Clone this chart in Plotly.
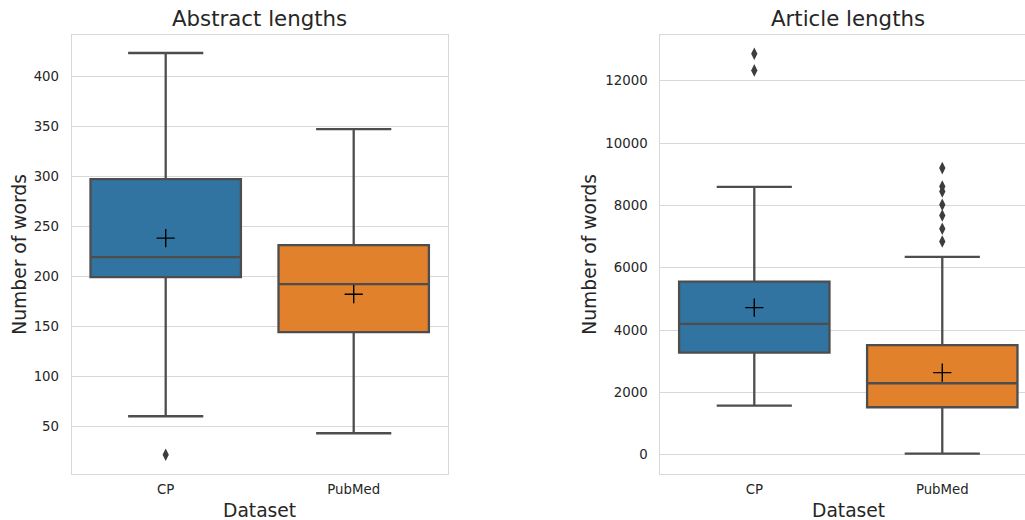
import plotly.graph_objects as go

W, H = 1025, 520

categories = ["CP", "PubMed"]
colors = ["#3274a1", "#e1812c"]

# Abstract lengths (words)
abs_q1 = [199, 144]
abs_median = [219, 192]
abs_q3 = [297, 231]
abs_lower = [60, 43]
abs_upper = [423, 347]
abs_mean = [238, 182]
abs_outliers = {"CP": [21.5], "PubMed": []}
abs_ticks = [50, 100, 150, 200, 250, 300, 350, 400]

# Article lengths (words)
art_q1 = [3275, 1522]
art_median = [4195, 2293]
art_q3 = [5556, 3513]
art_lower = [1573, 32]
art_upper = [8596, 6349]
art_mean = [4720, 2634]
art_outliers = {"CP": [12331, 12867],
                "PubMed": [6840, 7248, 7675, 8018, 8445, 8606, 9197]}
art_ticks = [0, 2000, 4000, 6000, 8000, 10000, 12000]

LINE = "#4d4d4d"
GRID = "#d8d8d8"
TXT = "#262626"
FONT = "DejaVu Sans"

fig = go.Figure()


def add_panel(q1, med, q3, lo, hi, mean, outl, xa, ya):
    for i, c in enumerate(categories):
        fig.add_trace(go.Box(
            x=[c], q1=[q1[i]], median=[med[i]], q3=[q3[i]],
            lowerfence=[lo[i]], upperfence=[hi[i]],
            fillcolor=colors[i], line=dict(color=LINE, width=2.3),
            width=0.8, whiskerwidth=0.5, boxpoints=False,
            xaxis=xa, yaxis=ya, showlegend=False, hoverinfo="skip"))
        if outl[c]:
            fig.add_trace(go.Scatter(
                x=[c] * len(outl[c]), y=outl[c], mode="markers",
                marker=dict(symbol="diamond-tall", size=9, color="#3d3d3d"),
                xaxis=xa, yaxis=ya, showlegend=False, hoverinfo="skip"))
    fig.add_trace(go.Scatter(
        x=categories, y=mean, mode="markers",
        marker=dict(symbol="cross-thin", size=13,
                    line=dict(color="black", width=1.4)),
        xaxis=xa, yaxis=ya, showlegend=False, hoverinfo="skip"))


add_panel(abs_q1, abs_median, abs_q3, abs_lower, abs_upper, abs_mean,
          abs_outliers, "x", "y")
add_panel(art_q1, art_median, art_q3, art_lower, art_upper, art_mean,
          art_outliers, "x2", "y2")

ydom = [1 - 474.3 / H, 1 - 34.7 / H]

common_x = dict(type="category", categoryorder="array", categoryarray=categories,
                showgrid=False, zeroline=False, showline=True, linecolor=GRID,
                linewidth=1, ticks="", ticklabelstandoff=3,
                tickfont=dict(family=FONT, size=13.3, color=TXT))
common_y = dict(showgrid=True, gridcolor=GRID, gridwidth=1, zeroline=False,
                showline=True, linecolor=GRID, linewidth=1, ticks="",
                ticklabelstandoff=9,
                tickfont=dict(family=FONT, size=13.3, color=TXT))

fig.update_layout(
    width=W, height=H, margin=dict(l=0, r=0, t=0, b=0),
    paper_bgcolor="white", plot_bgcolor="white", boxmode="overlay",
    xaxis=dict(common_x, domain=[71.7 / W, 447.7 / W], range=[-0.5, 1.5],
               mirror=True, anchor="y"),
    yaxis=dict(common_y, domain=ydom, range=[2.0, 441.3],
               tickvals=abs_ticks, ticktext=[str(t) for t in abs_ticks],
               mirror=True, anchor="x"),
    xaxis2=dict(common_x, domain=[660.3 / W, 1.0], range=[-0.5, 1.44],
                mirror=True, anchor="y2"),
    yaxis2=dict(common_y, domain=ydom, range=[-629, 13477],
                tickvals=art_ticks, ticktext=[str(t) for t in art_ticks],
                mirror=False, anchor="x2"),
)

ann = [
    ("Abstract lengths", 259.7, 19, 21.3, 0),
    ("Article lengths", 848, 19, 21.3, 0),
    ("Dataset", 259.7, 510, 18.7, 0),
    ("Dataset", 848, 510, 18.7, 0),
    ("Number of words", 19.2, 254.5, 18.7, -90),
    ("Number of words", 589.2, 254.5, 18.7, -90),
]
for text, px, py, fs, ang in ann:
    fig.add_annotation(text=text, x=px / W, y=1 - py / H, xref="paper",
                       yref="paper", xanchor="center", yanchor="middle",
                       showarrow=False, textangle=ang,
                       font=dict(family=FONT, size=fs, color=TXT))

fig.write_html("out.html")
